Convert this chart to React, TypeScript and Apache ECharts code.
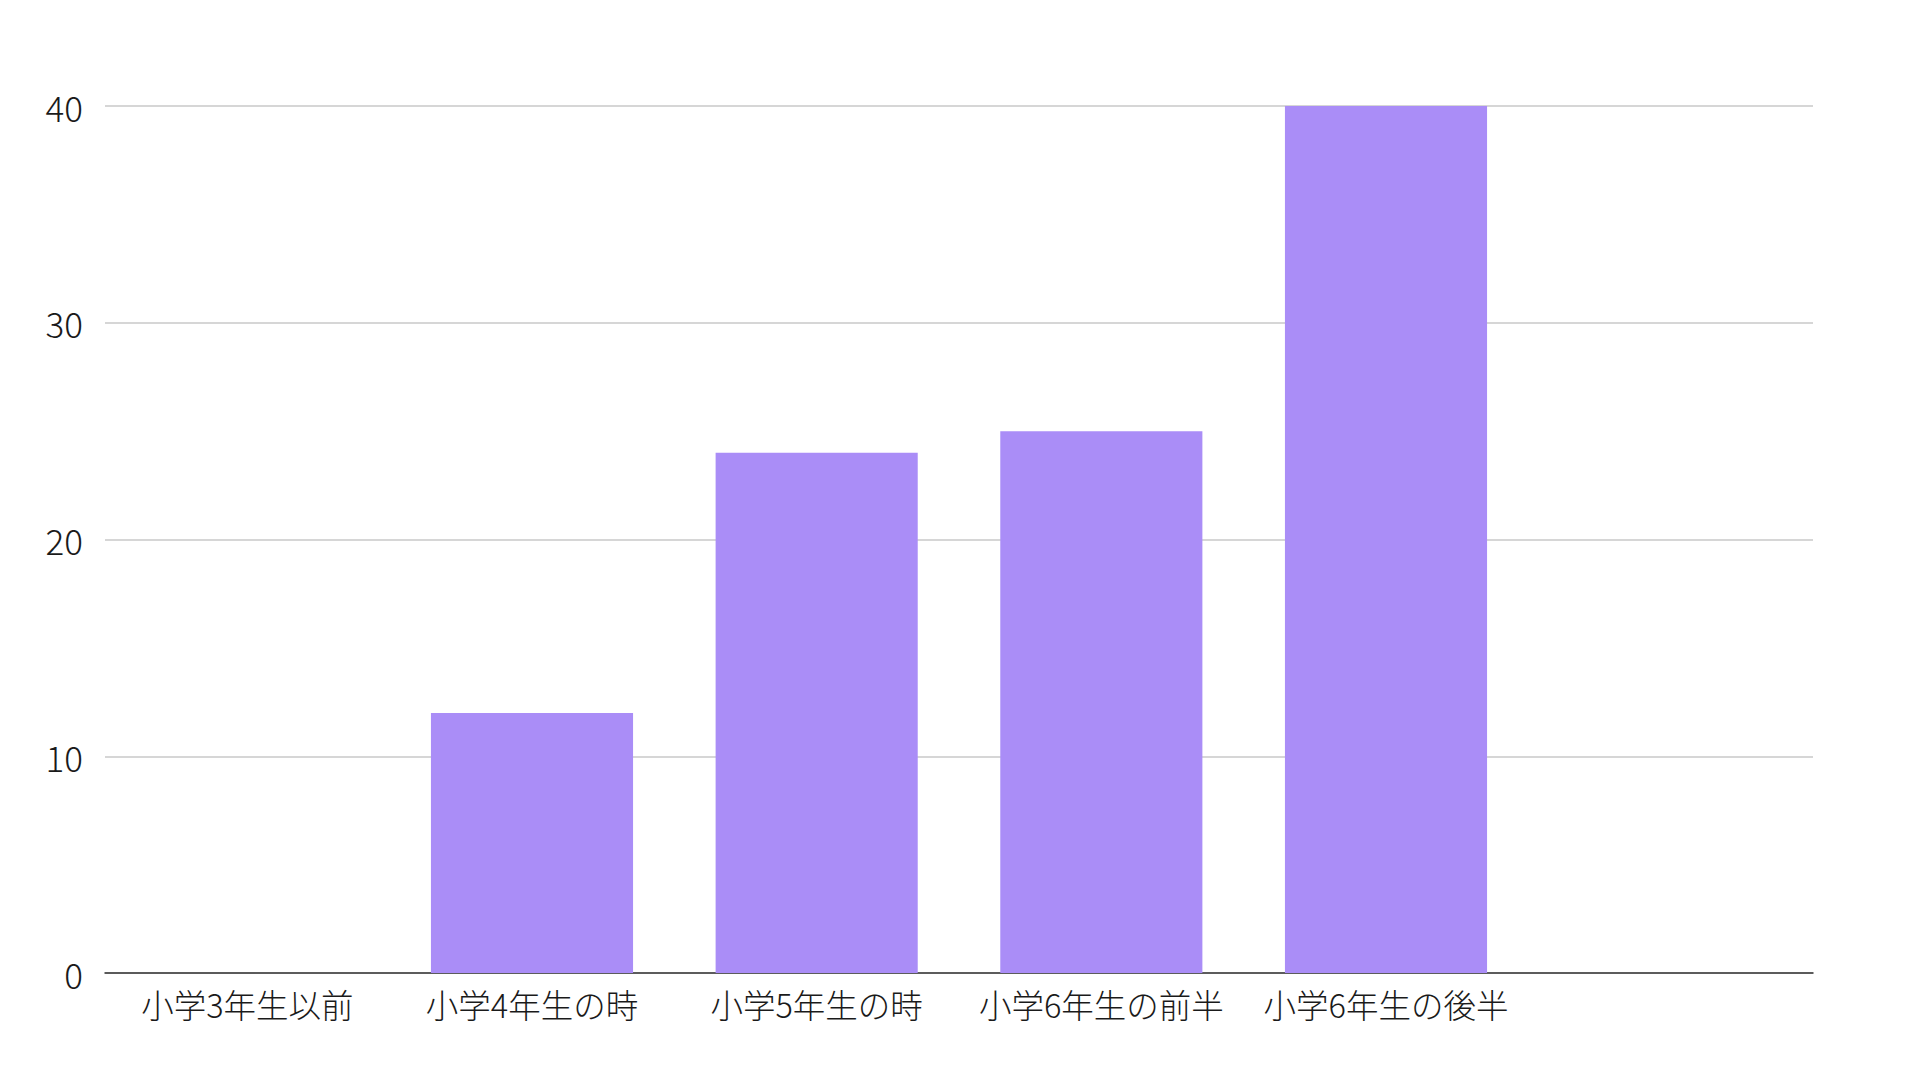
import React, { useEffect, useRef } from "react";
import * as echarts from "echarts";

const categories = ["小学3年生以前", "小学4年生の時", "小学5年生の時", "小学6年生の前半", "小学6年生の後半", ""];
const values = [0, 12, 24, 25, 40, null];
const yMin = 0;
const yMax = 40;
const yInterval = 10;

const FONT = '"Noto Sans CJK JP", "Noto Sans", sans-serif';

export default function App() {
  const ref = useRef<HTMLDivElement>(null);
  useEffect(() => {
    if (!ref.current) return;
    const chart = echarts.init(ref.current, null, { renderer: "svg" });
    chart.setOption({
      animation: false,
      backgroundColor: "#ffffff",
      grid: { left: 105, right: 107, top: 106, bottom: 107, containLabel: false },
      xAxis: {
        type: "category",
        data: categories,
        axisLine: { show: true, lineStyle: { color: "#333333", width: 1.5 } },
        axisTick: { show: false },
        axisLabel: {
          interval: 0,
          color: "#1a1a1a",
          fontSize: 32.5,
          fontWeight: 300,
          fontFamily: FONT,
          margin: 14,
        },
        splitLine: { show: false },
      },
      yAxis: {
        type: "value",
        min: yMin,
        max: yMax,
        interval: yInterval,
        axisLine: { show: false },
        axisTick: { show: false },
        axisLabel: {
          color: "#1a1a1a",
          fontSize: 35,
          fontWeight: 300,
          fontFamily: FONT,
          margin: 22,
        },
        splitLine: { show: true, lineStyle: { color: "#c8c8c8", width: 1.5 } },
      },
      series: [
        {
          type: "bar",
          data: values,
          barCategoryGap: "29%",
          itemStyle: { color: "#AA8DF7" },
        },
      ],
    });
    return () => chart.dispose();
  }, []);
  return (
    <div
      ref={ref}
      style={{ position: "fixed", left: 0, top: 0, width: 1920, height: 1080, background: "#fff" }}
    />
  );
}
